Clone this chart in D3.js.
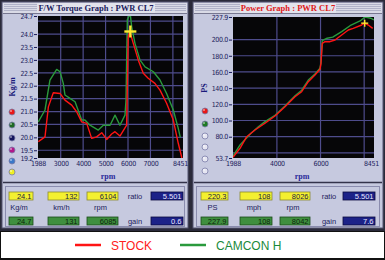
<!DOCTYPE html>
<html>
<head>
<meta charset="utf-8">
<script src="https://cdn.jsdelivr.net/npm/d3@7"></script>
<style>
  body { margin: 0; background: #fff; }
  text { font-family: "Liberation Sans", Arial, sans-serif; }
</style>
</head>
<body>
<div id="chart"></div>
<script>
// Torque (Kg/m) read from the dyno sheet
let torqueStockRpm = [2000, 2300, 2450, 2670, 2970, 3190, 3490, 3710, 3935, 4160, 4380, 4600, 4830, 5050, 5270, 5420, 5640, 5940, 6010, 6080, 6235, 6460, 6680, 6900, 7200, 7425, 7720, 8018, 8240, 8400];
let torqueStockVal = [19.83, 20.02, 21.18, 21.73, 21.70, 21.44, 21.25, 20.99, 20.60, 20.54, 19.96, 20.02, 20.18, 19.92, 20.13, 20.22, 20.05, 20.47, 23.9, 24.1, 23.64, 22.99, 22.48, 22.29, 22.09, 21.83, 21.32, 20.67, 19.77, 19.2];
let torqueCamRpm = [2000, 2300, 2520, 2820, 2970, 3115, 3190, 3415, 3640, 3935, 4080, 4305, 4675, 4900, 5200, 5420, 5640, 5865, 5910, 5970, 6040, 6110, 6163, 6310, 6535, 6760, 7130, 7425, 7720, 8018, 8240, 8330];
let torqueCamVal = [20.6, 21.06, 22.22, 22.63, 22.54, 22.09, 21.64, 21.51, 21.38, 20.67, 20.67, 20.47, 20.28, 20.47, 20.47, 20.86, 20.47, 20.86, 21.44, 24.55, 24.7, 24.7, 24.29, 23.64, 22.99, 22.73, 22.54, 22.22, 21.7, 21.06, 20.35, 20.0];

// Power (PS)
let powerStockRpm = [1988, 2310, 2615, 2996, 3455, 3913, 4371, 4830, 5136, 5440, 5746, 5975, 6021, 6080, 6204, 6433, 6663, 6970, 7272, 7500, 7886, 8026, 8190, 8390];
let powerStockVal = [54.5, 65.7, 80.0, 88.3, 96.6, 105.6, 117.1, 129.4, 135.6, 148.0, 156.2, 163.3, 170.7, 195.4, 197.4, 197.4, 199.5, 205.7, 211.8, 213.9, 218.0, 220.3, 218.0, 213.9];
let powerCamRpm = [1988, 2310, 2800, 3150, 3455, 3913, 4371, 4830, 5136, 5440, 5746, 5975, 6021, 6080, 6300, 6560, 6970, 7400, 7810, 8042, 8300, 8451];
let powerCamVal = [56.0, 69.8, 84.0, 92.3, 98.7, 106.5, 118.0, 130.5, 137.5, 150.0, 157.5, 164.5, 172.0, 198.8, 201.7, 203.0, 209.9, 218.0, 223.0, 227.9, 226.4, 224.3];

// Axis ticks
let torqueTicks = [19.2, 19.5, 20.0, 20.5, 21.0, 21.5, 22.0, 22.5, 23.0, 23.5, 24.0, 24.7];
let torqueGrid = [19.5, 20.0, 20.5, 21.0, 21.5, 22.0, 22.5, 23.0, 23.5, 24.0, 24.5];
let torqueRpmTicks = [1988, 3000, 4000, 5000, 6000, 7000, 8451];
let torqueRpmGrid = [3000, 4000, 5000, 6000, 7000, 8000];
let powerTicks = [53.7, 80, 100, 120, 140, 160, 180, 200, 227.9];
let powerGrid = [60, 80, 100, 120, 140, 160, 180, 200];
let powerRpmTicks = [1988, 4000, 6000, 8451];
let powerRpmGrid = [4000, 6000, 8000];

// Cursor readouts
let torqueCursor = [6104, 24.1];
let powerCursor = [8026, 220.3];
let torqueStockRead = ["24.1", "132", "6104"];
let torqueCamRead = ["24.7", "131", "6085"];
let torqueUnits = ["Kg/m", "km/h", "rpm"];
let torqueSide = ["5.501", "0.6"];
let powerStockRead = ["220.3", "108", "8026"];
let powerCamRead = ["227.9", "108", "8042"];
let powerUnits = ["PS", "mph", "rpm"];
let powerSide = ["5.501", "7.6"];

let seriesNames = ["STOCK", "CAMCON H"];
let seriesColors = ["#ff1414", "#2a9a3c"];

let navy = "#1c1c5c";
let narrow = "'Liberation Sans Narrow', 'DejaVu Sans Condensed', Arial, sans-serif";

let svg = d3.select("#chart").append("svg")
            .attr("width", 385)
            .attr("height", 260)
            .style("display", "block");

svg.append("rect").attr("x", 0).attr("y", 0).attr("width", 385).attr("height", 260).attr("fill", "#fff");
svg.append("rect").attr("x", 0.5).attr("y", 0.5).attr("width", 384).attr("height", 259)
   .attr("fill", "none").attr("stroke", "#111").attr("stroke-width", 1);
svg.append("rect").attr("x", 0).attr("y", 0).attr("width", 385).attr("height", 231).attr("fill", "#2a2a3a");

// Un panneau (fenêtre) du logiciel
function drawPanel(cfg) {
  let g = svg.append("g");
  g.append("rect").attr("x", cfg.x).attr("y", 2).attr("width", cfg.w).attr("height", 226)
   .attr("fill", "#c6c9df").attr("stroke", "#555570");

  // barre de titre
  g.append("rect").attr("x", cfg.x + 1).attr("y", 3).attr("width", cfg.w - 2).attr("height", 10)
   .attr("fill", "#d9dae6");
  for (let i = 0; i < 4; i++) {
    g.append("line").attr("x1", cfg.x + 2).attr("x2", cfg.x + cfg.w - 2)
     .attr("y1", 4.5 + i * 2).attr("y2", 4.5 + i * 2)
     .attr("stroke", "#b0b2c8").attr("stroke-width", 1);
  }
  g.append("rect").attr("x", cfg.titleX - cfg.titleW / 2).attr("y", 3).attr("width", cfg.titleW).attr("height", 10)
   .attr("fill", "#e2e3ec");
  g.append("text").attr("x", cfg.titleX).attr("y", 11)
   .attr("text-anchor", "middle")
   .style("font-family", "'Liberation Serif', 'Times New Roman', serif")
   .style("font-weight", "bold").style("font-size", "8.5px")
   .attr("fill", cfg.titleColor).text(cfg.title);
  g.append("line").attr("x1", cfg.x + 1).attr("x2", cfg.x + cfg.w - 1).attr("y1", 13.5).attr("y2", 13.5)
   .attr("stroke", "#777790");

  // séparateur et cadre des lectures
  g.append("line").attr("x1", cfg.x + 1).attr("x2", cfg.x + cfg.w - 1).attr("y1", 182.5).attr("y2", 182.5)
   .attr("stroke", "#33334a").attr("stroke-width", 1.5);
  g.append("rect").attr("x", cfg.x + 3.5).attr("y", 186.5).attr("width", cfg.w - 7).attr("height", 40)
   .attr("fill", "none").attr("stroke", "#8a8cae");
  return g;
}

drawPanel({x: 2, w: 186, title: "F/W Torque Graph : PWR CL7", titleX: 96, titleW: 118, titleColor: navy});
drawPanel({x: 193, w: 190, title: "Power Graph : PWR CL7", titleX: 288, titleW: 96, titleColor: "#e01818"});

// Scales
let xT = d3.scaleLinear().domain([1988, 8451]).range([38, 183]);
let yT = d3.scaleLinear().domain([19.2, 24.7]).range([158, 16]);
let xP = d3.scaleLinear().domain([1988, 8451]).range([233, 374]);
let yP = d3.scaleLinear().domain([53.7, 227.9]).range([158, 17]);

function drawPlot(cfg) {
  let xs = cfg.x, ys = cfg.y;
  let [x0, x1] = xs.range();
  let [y0, y1] = ys.range();
  let g = svg.append("g");

  let clipId = "clip" + cfg.id;
  svg.append("clipPath").attr("id", clipId)
     .append("rect").attr("x", x0).attr("y", y1).attr("width", x1 - x0).attr("height", y0 - y1);

  g.append("rect").attr("x", x0).attr("y", y1).attr("width", x1 - x0).attr("height", y0 - y1)
   .attr("fill", "#060608");

  let grid = g.append("g").attr("clip-path", `url(#${clipId})`);
  grid.selectAll(".hg").data(cfg.yGrid).enter().append("line")
      .attr("x1", x0).attr("x2", x1)
      .attr("y1", d => ys(d)).attr("y2", d => ys(d))
      .attr("stroke", "#4e4c8c").attr("stroke-width", 1.2);
  grid.selectAll(".vg").data(cfg.xGrid).enter().append("line")
      .attr("y1", y1).attr("y2", y0)
      .attr("x1", d => xs(d)).attr("x2", d => xs(d))
      .attr("stroke", "#4e4c8c").attr("stroke-width", 1.2);

  // axes
  let ya = g.append("g").attr("transform", `translate(${x0 - 1},0)`)
            .call(d3.axisLeft(ys).tickValues(cfg.yTicks).tickSize(3).tickPadding(1).tickFormat(d3.format(".1f")));
  ya.select(".domain").remove();
  ya.selectAll("line").attr("stroke", navy);
  ya.selectAll("text").attr("fill", navy).style("font-size", "7px")
    .style("letter-spacing", "-0.35px").style("font-family", narrow);

  let xa = g.append("g").attr("transform", `translate(0,${y0})`)
            .call(d3.axisBottom(xs).tickValues(cfg.xTicks).tickSize(0).tickPadding(3).tickFormat(d3.format("d")));
  xa.select(".domain").remove();
  xa.selectAll("text").attr("fill", navy).style("font-size", "7px")
    .style("letter-spacing", "-0.3px").style("font-family", narrow);
  xa.selectAll(".tick").filter((d, i, n) => i === n.length - 1).select("text").attr("dx", -3);

  g.append("text").attr("x", cfg.rpmX).attr("y", 178.5).attr("text-anchor", "middle")
   .style("font-family", "'Liberation Serif', serif").style("font-weight", "bold").style("font-size", "8px")
   .attr("fill", "#2a2a9a").text("rpm");

  // courbes
  let curves = g.append("g").attr("clip-path", `url(#${clipId})`);
  cfg.series.forEach((s, i) => {
    let pts = s.rpm.map((r, k) => [r, s.val[k]]);
    curves.append("path").datum(pts)
          .attr("fill", "none")
          .attr("stroke", seriesColors[s.color])
          .attr("stroke-width", 1.4)
          .attr("stroke-linejoin", "round")
          .attr("d", d3.line().x(d => xs(d[0])).y(d => ys(d[1])));
  });

  // curseur
  let cx = xs(cfg.cursor[0]), cy = ys(cfg.cursor[1]);
  curves.append("line").attr("x1", cx - cfg.cross).attr("x2", cx + cfg.cross).attr("y1", cy).attr("y2", cy)
        .attr("stroke", "#ffe830").attr("stroke-width", cfg.crossW);
  curves.append("line").attr("x1", cx).attr("x2", cx).attr("y1", cy - cfg.cross).attr("y2", cy + cfg.cross)
        .attr("stroke", "#ffe830").attr("stroke-width", cfg.crossW);

  // unité verticale
  g.append("text").attr("transform", `translate(${cfg.unitX},${cfg.unitY}) rotate(-90)`)
   .attr("text-anchor", "middle")
   .style("font-family", "'Liberation Serif', serif").style("font-weight", "bold").style("font-size", "8px")
   .attr("fill", "#1a1a7a").text(cfg.unit);

  // pastilles
  g.selectAll(".dot").data(cfg.dots).enter().append("circle")
   .attr("cx", cfg.dotX).attr("cy", (d, i) => cfg.dotY[i])
   .attr("r", 3)
   .attr("fill", d => d)
   .attr("stroke", "#7a7ca8").attr("stroke-width", 0.8);
  g.selectAll(".hl").data(cfg.dots).enter().append("circle")
   .attr("cx", cfg.dotX - 1).attr("cy", (d, i) => cfg.dotY[i] - 1)
   .attr("r", 0.9).attr("fill", "#fff").attr("opacity", 0.6);
}

drawPlot({
  id: "T", x: xT, y: yT,
  yTicks: torqueTicks, yGrid: torqueGrid, xTicks: torqueRpmTicks, xGrid: torqueRpmGrid,
  rpmX: 108,
  series: [{rpm: torqueCamRpm, val: torqueCamVal, color: 1}, {rpm: torqueStockRpm, val: torqueStockVal, color: 0}],
  cursor: torqueCursor, cross: 6, crossW: 2.4,
  unit: "Kg/m", unitX: 15, unitY: 87,
  dotX: 12, dotY: [112, 125, 138, 150, 161, 172],
  dots: ["#e81818", "#1e6a24", "#14145e", "#b0188a", "#3a78c8", "#eeee22"]
});

drawPlot({
  id: "P", x: xP, y: yP,
  yTicks: powerTicks, yGrid: powerGrid, xTicks: powerRpmTicks, xGrid: powerRpmGrid,
  rpmX: 302,
  series: [{rpm: powerCamRpm, val: powerCamVal, color: 1}, {rpm: powerStockRpm, val: powerStockVal, color: 0}],
  cursor: powerCursor, cross: 3.5, crossW: 1.4,
  unit: "PS", unitX: 207, unitY: 88,
  dotX: 205, dotY: [111, 124, 136, 147, 159, 171],
  dots: ["#e81818", "#1e7a24", "#e6e6f2", "#e6e6f2", "#e6e6f2", "#e6e6f2"]
});

// Lectures du curseur
function drawReadout(cfg) {
  let g = svg.append("g").style("font-size", "7.5px");
  let rows = [{y: 192, vals: cfg.top, fill: "#f4f030", text: "#202040", stroke: "#8a8a30"},
              {y: 217, vals: cfg.bottom, fill: "#3f8f3f", text: "#0c240c", stroke: "#1a4a1a"}];
  rows.forEach(r => {
    cfg.boxes.forEach((b, i) => {
      g.append("rect").attr("x", b[0]).attr("y", r.y).attr("width", b[1] - b[0]).attr("height", 8)
       .attr("fill", r.fill).attr("stroke", r.stroke).attr("stroke-width", 0.8);
      g.append("text").attr("x", b[1] - 1.5).attr("y", r.y + 6.8).attr("text-anchor", "end")
       .attr("fill", r.text).text(r.vals[i]);
    });
  });
  cfg.boxes.forEach((b, i) => {
    g.append("text").attr("x", (b[0] + b[1]) / 2 - 2).attr("y", 209.5).attr("text-anchor", "middle")
     .attr("fill", navy).text(cfg.units[i]);
  });
  ["ratio", "gain"].forEach((lbl, i) => {
    let y = i ? 217 : 192;
    g.append("text").attr("x", cfg.lblX).attr("y", y + 6.5).attr("text-anchor", "middle")
     .attr("fill", navy).text(lbl);
    g.append("rect").attr("x", cfg.side[0]).attr("y", y).attr("width", cfg.side[1] - cfg.side[0]).attr("height", 8)
     .attr("fill", "#1c2288").attr("stroke", "#0a0a40").attr("stroke-width", 0.8);
    g.append("text").attr("x", cfg.side[1] - 1.5).attr("y", y + 6.8).attr("text-anchor", "end")
     .attr("fill", "#e8e8ff").text(cfg.sideVals[i]);
  });
}

drawReadout({
  boxes: [[9, 33], [48, 79], [87, 118]], side: [151, 183], lblX: 135,
  top: torqueStockRead, bottom: torqueCamRead, units: torqueUnits, sideVals: torqueSide
});
drawReadout({
  boxes: [[201, 228], [240, 272], [280, 310]], side: [343, 375], lblX: 329,
  top: powerStockRead, bottom: powerCamRead, units: powerUnits, sideVals: powerSide
});

// Légende
let legend = svg.append("g");
legend.append("rect").attr("x", 0.5).attr("y", 231.5).attr("width", 384).attr("height", 27)
      .attr("fill", "#fff").attr("stroke", "#111");
let legX = [75, 180];
seriesNames.forEach((name, i) => {
  legend.append("line").attr("x1", legX[i]).attr("x2", legX[i] + 26).attr("y1", 245).attr("y2", 245)
        .attr("stroke", seriesColors[i]).attr("stroke-width", 2.5);
  legend.append("text").attr("x", legX[i] + 36).attr("y", 249.5)
        .style("font-size", "12px").attr("fill", i ? "#1a8a3a" : "#ff2020").text(name);
});
</script>
</body>
</html>
